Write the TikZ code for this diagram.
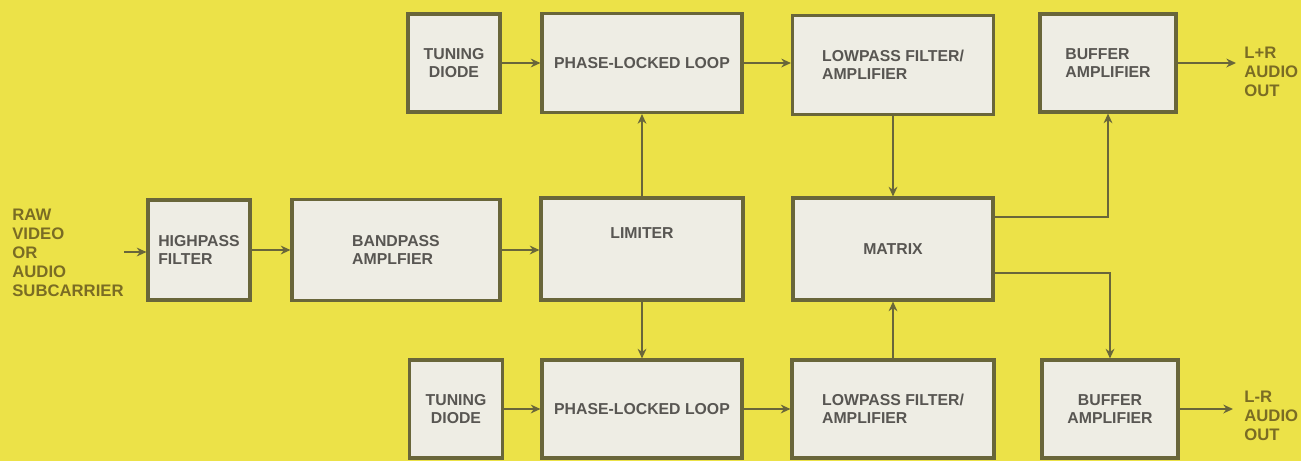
\documentclass[tikz,border=0pt]{standalone}
\usepackage{fontspec}
\setmainfont{Liberation Sans}
\usetikzlibrary{arrows.meta, positioning}

\definecolor{bgyellow}{RGB}{236,226,72}
\definecolor{boxfill}{RGB}{238,237,228}
\definecolor{boxline}{RGB}{105,102,58}
\definecolor{boxtext}{RGB}{88,86,82}
\definecolor{sidetext}{RGB}{122,108,36}

\begin{document}
\begin{tikzpicture}[
    x = 0.02cm, y = -0.02cm,
    > = {Stealth[length=5.5pt, width=5pt]},
    box/.style={draw=boxline, line width=1.8pt, fill=boxfill, text=boxtext,
        font=\bfseries\fontsize{9}{10.5}\selectfont, align=center, inner sep=0pt},
    link/.style={->, draw=boxline, line width=0.9pt},
    side/.style={text=sidetext, font=\bfseries\fontsize{9.5}{10.8}\selectfont,
        align=left, anchor=west, inner sep=0pt}
]

% --- background ---
\fill[bgyellow] (0,0) rectangle (1301,461);
\useasboundingbox (0,0) rectangle (1301,461);

% --- Top channel ---
\node[box, minimum width=1.84cm, minimum height=1.96cm] (td1) at (454,63) {TUNING\\DIODE};
\node[box, minimum width=4cm, minimum height=1.98cm] (pll1) at (642,63) {PHASE-LOCKED LOOP};
\node[box, minimum width=4.02cm, minimum height=1.98cm, align=left] (lp1) at (893,65) {LOWPASS FILTER/\\AMPLIFIER};
\node[box, minimum width=2.72cm, minimum height=1.96cm, align=left] (buf1) at (1108,63) {BUFFER\\AMPLIFIER};

% --- Middle row ---
\node[box, minimum width=2.04cm, minimum height=2cm, align=left] (hp) at (199,250) {HIGHPASS\\FILTER};
\node[box, minimum width=4.16cm, minimum height=2.02cm, align=left] (bp) at (396,250) {BANDPASS\\AMPLFIER};
\node[box, minimum width=4.04cm, minimum height=2.04cm] (lim) at (642,249) {};
\node[text=boxtext, font=\bfseries\fontsize{9}{10.5}\selectfont] (limtxt) at (642,233) {LIMITER};
\node[box, minimum width=4cm, minimum height=2.04cm] (mat) at (893,249) {MATRIX};

% --- Bottom channel ---
\node[box, minimum width=1.86cm, minimum height=1.96cm] (td2) at (456,409) {TUNING\\DIODE};
\node[box, minimum width=4cm, minimum height=1.96cm] (pll2) at (642,409) {PHASE-LOCKED LOOP};
\node[box, minimum width=4.04cm, minimum height=1.96cm, align=left] (lp2) at (893,409) {LOWPASS FILTER/\\AMPLIFIER};
\node[box, minimum width=2.72cm, minimum height=1.96cm, align=center] (buf2) at (1110,409) {BUFFER\\AMPLIFIER};

% --- inputs and outputs ---
\node[side] (raw) at (12,253) {RAW\\VIDEO\\OR\\AUDIO\\SUBCARRIER};
\node[side] (outlr) at (1244,72) {L+R\\AUDIO\\OUT};
\node[side] (outlmr) at (1244,416) {L-R\\AUDIO\\OUT};
\coordinate (vin) at (124,252);
\coordinate (o1) at (1236,63);
\coordinate (o2) at (1233,409);

% --- signal path ---
\draw[link] (vin) -- (vin -| hp.west);
\draw[link] (hp) -- (bp);
\draw[link] (bp.east) -- (bp.east -| lim.west);
\draw[link] (lim.north) -- (pll1.south);
\draw[link] (lim.south) -- (pll2.north);
\draw[link] (td1) -- (pll1);
\draw[link] (td2) -- (pll2);
\draw[link] (pll1) -- (pll1 -| lp1.west);
\draw[link] (pll2) -- (lp2);
\draw[link] (lp1.south) -- (mat.north);
\draw[link] (lp2.north) -- (mat.south);
\draw[link] ([yshift=0.64cm]mat.east) -| (buf1.south);
\draw[link] ([yshift=-0.48cm]mat.east) -| (buf2.north);
\draw[link] (buf1.east) -- (o1);
\draw[link] (buf2.east) -- (o2);

\end{tikzpicture}
\end{document}
